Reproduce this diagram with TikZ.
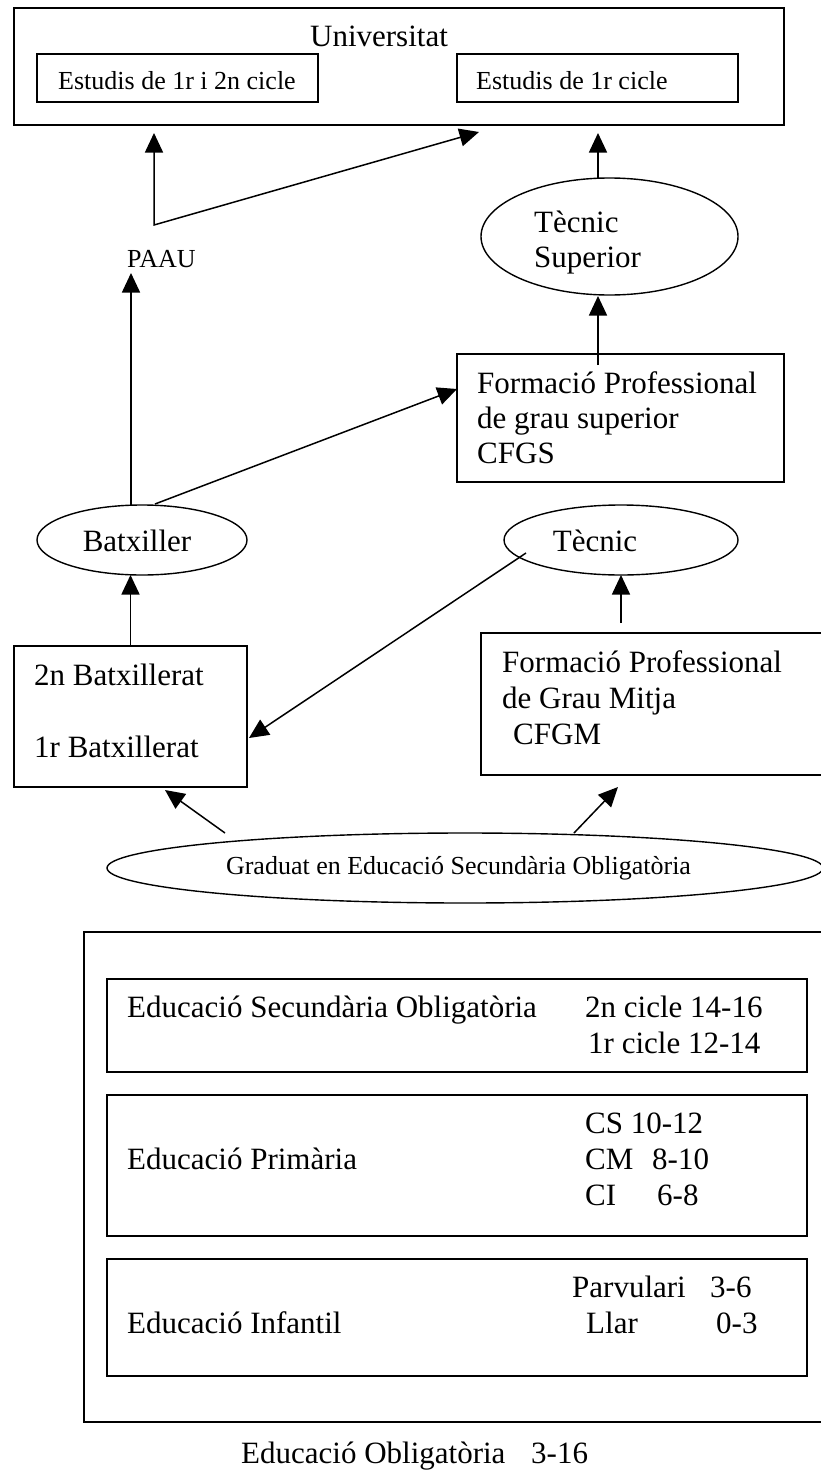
\documentclass[tikz,border=0pt]{standalone}
\usepackage{fontspec}
\setmainfont{Liberation Serif}
\usetikzlibrary{shapes.geometric,arrows.meta,calc}
\begin{document}
\begin{tikzpicture}[x=1pt,y=-1pt,
  rbox/.style={draw, line width=1.5pt, rectangle, inner sep=0pt, outer sep=0pt},
  oval/.style={draw, line width=1.4pt, ellipse, inner sep=0pt, outer sep=0pt},
  big/.style={font=\fontsize{31}{35}\selectfont, inner sep=0pt, anchor=base west},
  small/.style={font=\fontsize{26}{30}\selectfont, inner sep=0pt, anchor=base west},
  arr/.style={line width=1.5pt, -{Triangle[length=19.5pt,width=18pt]}},
  darr/.style={line width=1.5pt, {Triangle[length=19.5pt,width=18pt]}-{Triangle[length=19.5pt,width=18pt]}}
]
\useasboundingbox (0,0) rectangle (821,1472);
\clip (0,0) rectangle (821,1472);

% Universitat
\node[rbox, minimum width=770pt, minimum height=117pt] (univ) at (399,66.5) {};
\node[big, anchor=base] (univt) at (379,47) {Universitat};
\node[rbox, minimum width=281pt, minimum height=48pt] (e12) at (177.5,78) {};
\node[small] (e12t) at (58,89) {Estudis de 1r i 2n cicle};
\node[rbox, minimum width=281pt, minimum height=48pt] (e1) at (597.5,78) {};
\node[small] (e1t) at (476,89) {Estudis de 1r cicle};

% Tecnic Superior
\node[oval, minimum width=257pt, minimum height=117pt] (tecsup) at (609.5,236.5) {};
\node[big] (tecsupa) at (534,232) {Tècnic};
\node[big] (tecsupb) at (534,267) {Superior};

\node[small] (paau) at (127,267) {PAAU};

% FP grau superior
\node[rbox, minimum width=327pt, minimum height=128pt] (fps) at (620.5,418) {};
\node[big] (fpsa) at (477,393) {Formació Professional};
\node[big] (fpsb) at (477,428) {de grau superior};
\node[big] (fpsc) at (477,463) {CFGS};

% Batxiller / Tecnic
\node[oval, minimum width=210pt, minimum height=70pt] (batx) at (142,540) {};
\node[big, anchor=base] (batxt) at (137,551) {Batxiller};
\node[oval, minimum width=234pt, minimum height=70pt] (tec) at (621,540) {};
\node[big, anchor=base] (tect) at (595,551) {Tècnic};

% Batxillerat box
\node[rbox, minimum width=233pt, minimum height=141pt] (batbox) at (130.5,716.5) {};
\node[big] (bata) at (34,685) {2n Batxillerat};
\node[big] (batb) at (34,757) {1r Batxillerat};

% FP grau mitja
\node[rbox, minimum width=359pt, minimum height=142pt] (fpm) at (660.5,704) {};
\node[big] (fpma) at (502,672) {Formació Professional};
\node[big] (fpmb) at (502,708) {de Grau Mitja};
\node[big] (fpmc) at (513,744) {CFGM};

% Graduat
\node[oval, minimum width=716pt, minimum height=70pt] (grad) at (465,868) {};
\node[small, anchor=base] (gradt) at (458.5,874) {Graduat en Educació Secundària Obligatòria};

% Lower block
\node[rbox, minimum width=766pt, minimum height=490pt] (outer) at (467,1177) {};
\node[rbox, minimum width=700pt, minimum height=93pt] (eso) at (457,1025.5) {};
\node[big] (esoa) at (127,1017) {Educació Secundària Obligatòria};
\node[big] (esob) at (585,1017) {2n cicle 14-16};
\node[big] (esoc) at (588,1053) {1r cicle 12-14};

\node[rbox, minimum width=700pt, minimum height=141pt] (prim) at (457,1165.5) {};
\node[big] (prima) at (127,1169) {Educació Primària};
\node[big] (primb) at (585,1133) {CS 10-12};
\node[big] (primc) at (585,1169) {CM};
\node[big] (primd) at (652,1169) {8-10};
\node[big] (prime) at (585,1205) {CI};
\node[big] (primf) at (657,1205) {6-8};

\node[rbox, minimum width=700pt, minimum height=117pt] (inf) at (457,1317.5) {};
\node[big] (infa) at (127,1333) {Educació Infantil};
\node[big] (infb) at (572,1297) {Parvulari};
\node[big] (infc) at (710,1297) {3-6};
\node[big] (infd) at (586,1333) {Llar};
\node[big] (infe) at (716,1333) {0-3};

\node[big] (oblig) at (241,1463) {Educació Obligatòria};
\node[big] (obligb) at (531,1463) {3-16};

% connector points
\coordinate (paauk) at (154,225);
\coordinate (paauup) at (154,133);
\coordinate (paaur) at (479,132);
\coordinate (tsup1) at (598,178);
\coordinate (tsup2) at (598,133);
\coordinate (fpsup1) at (598,365);
\coordinate (fpsup2) at (598,296);
\coordinate (batxtop) at (131,505);
\coordinate (paaubot) at (131,273);
\coordinate (batxne) at (155,504);
\coordinate (fpsw) at (457,389);
\coordinate (tecsw) at (526,553);
\coordinate (batboxe) at (249,738);
\coordinate (fpmtop) at (621,623);
\coordinate (gradl) at (225,833);
\coordinate (batboxs) at (165,790);
\coordinate (gradr) at (574,833);
\coordinate (fpmbot) at (618,787);

\draw[darr] (paauup) -- (paauk) -- (paaur);
\draw[arr] (tsup1) -- (tsup2);
\draw[arr] (fpsup1) -- (fpsup2);
\draw[arr] (batxtop) -- (paaubot);
\draw[arr] (batxne) -- (fpsw);
\draw[arr] (tecsw) -- (batboxe);
\draw[arr] (fpmtop) -- (tec.south);
\draw[arr] (batbox.north) -- (batbox.north |- batx.south);
\draw[arr] (gradl) -- (batboxs);
\draw[arr] (gradr) -- (fpmbot);
\end{tikzpicture}
\end{document}
